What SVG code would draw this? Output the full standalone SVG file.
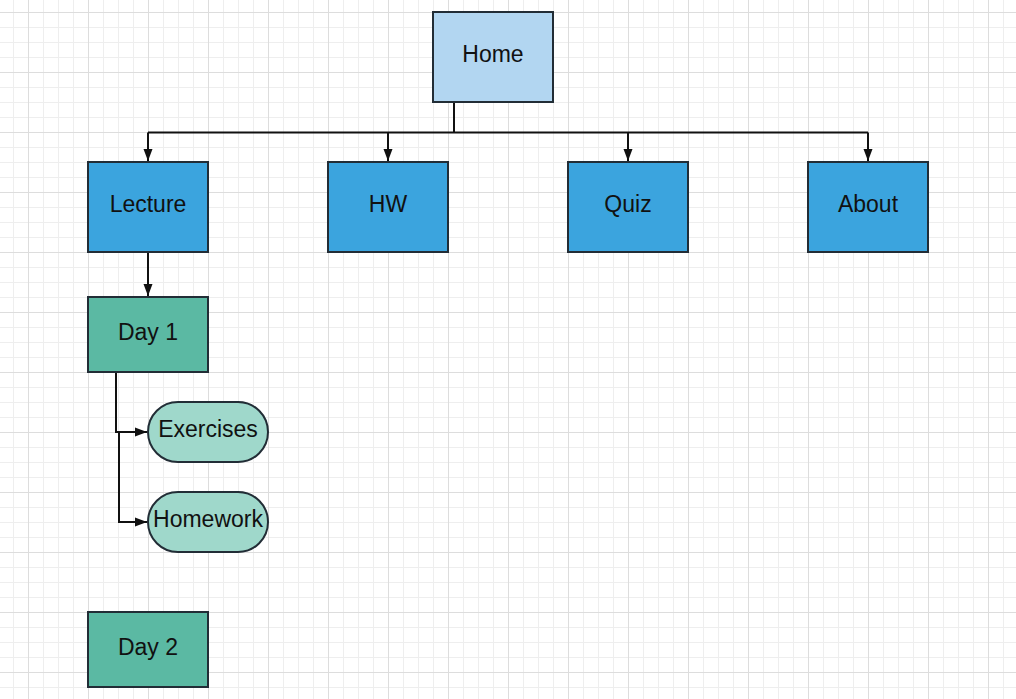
<svg xmlns="http://www.w3.org/2000/svg" width="1016" height="699" viewBox="0 0 1016 699">
<defs>
<pattern id="minor" x="13" y="12" width="15" height="15" patternUnits="userSpaceOnUse">
<path d="M0.5 0V15M0 0.5H15" stroke="#eeeeee" stroke-width="1" fill="none"/>
</pattern>
<pattern id="major" x="28" y="12" width="60" height="60" patternUnits="userSpaceOnUse">
<path d="M0.5 0V60M0 0.5H60" stroke="#dddddd" stroke-width="1" fill="none"/>
</pattern>
<marker id="arr" viewBox="0 0 12 10" refX="12" refY="5" markerWidth="12" markerHeight="10" markerUnits="userSpaceOnUse" orient="auto">
<path d="M0 0.5L12 5L0 9.5Z" fill="#111"/>
</marker>
<style>
.box{stroke:#222d36;stroke-width:2}
.home{fill:#b2d6f1}
.top{fill:#3ba4de}
.day{fill:#5bb9a3}
.sub{fill:#9fd8cb}
.t{font-family:"Liberation Sans",Arial,sans-serif;font-size:23px;fill:#111;text-anchor:middle;dominant-baseline:central}
.c{fill:none;stroke:#111;stroke-width:2}
</style>
</defs>
<rect width="1016" height="699" fill="#fff"/>
<rect width="1016" height="699" fill="url(#minor)"/>
<rect width="1016" height="699" fill="url(#major)"/>
<g id="connectors">
<path class="c" d="M454 103V132.5"/>
<path class="c" d="M148 132.5H868"/>
<path class="c" d="M148 132.5V161" marker-end="url(#arr)"/>
<path class="c" d="M388 132.5V161" marker-end="url(#arr)"/>
<path class="c" d="M628 132.5V161" marker-end="url(#arr)"/>
<path class="c" d="M868 132.5V161" marker-end="url(#arr)"/>
<path class="c" d="M148 253V296" marker-end="url(#arr)"/>
<path class="c" d="M116 373V432H147" marker-end="url(#arr)"/>
<path class="c" d="M116 432H119V522H147" marker-end="url(#arr)"/>
</g>
<g id="home"><rect class="box home" x="433" y="12" width="120" height="90"/><text class="t" x="493" y="54">Home</text></g>
<g id="lecture"><rect class="box top" x="88" y="162" width="120" height="90"/><text class="t" x="148" y="204">Lecture</text></g>
<g id="hw"><rect class="box top" x="328" y="162" width="120" height="90"/><text class="t" x="388" y="204">HW</text></g>
<g id="quiz"><rect class="box top" x="568" y="162" width="120" height="90"/><text class="t" x="628" y="204">Quiz</text></g>
<g id="about"><rect class="box top" x="808" y="162" width="120" height="90"/><text class="t" x="868" y="204">About</text></g>
<g id="day1"><rect class="box day" x="88" y="297" width="120" height="75"/><text class="t" x="148" y="332">Day 1</text></g>
<g id="exercises"><rect class="box sub" x="148" y="402" width="120" height="60" rx="30" ry="30"/><text class="t" x="208" y="429">Exercises</text></g>
<g id="homework"><rect class="box sub" x="148" y="492" width="120" height="60" rx="30" ry="30"/><text class="t" x="208" y="519">Homework</text></g>
<g id="day2"><rect class="box day" x="88" y="612" width="120" height="75"/><text class="t" x="148" y="647">Day 2</text></g>
</svg>
